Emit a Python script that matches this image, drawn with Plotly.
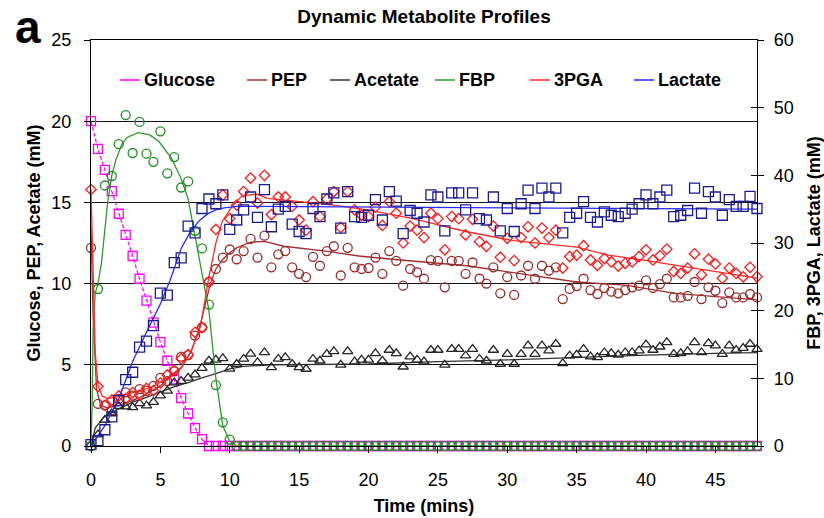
import plotly.graph_objects as go

# ---------------- sampling times (min) ----------------
t = [0.0, 0.5, 1.0, 1.5, 2.0, 2.5, 3.0, 3.5, 4.0, 4.5, 5.0, 5.5, 6.0, 6.5, 7.0, 7.5,
     8.0, 8.5, 9.0, 9.5, 10.0, 10.5, 11.0, 11.5, 12.0, 12.5, 13.0, 13.5, 14.0, 14.5,
     15.0, 15.5, 16.0, 16.5, 17.0, 17.5, 18.0, 18.5, 19.0, 19.5, 20.0, 20.5, 21.0, 21.5,
     22.0, 22.5, 23.0, 23.5, 24.0, 24.5, 25.0, 25.5, 26.0, 26.5, 27.0, 27.5, 28.0, 28.5,
     29.0, 29.5, 30.0, 30.5, 31.0, 31.5, 32.0, 32.5, 33.0, 33.5, 34.0, 34.5, 35.0, 35.5,
     36.0, 36.5, 37.0, 37.5, 38.0, 38.5, 39.0, 39.5, 40.0, 40.5, 41.0, 41.5, 42.0, 42.5,
     43.0, 43.5, 44.0, 44.5, 45.0, 45.5, 46.0, 46.5, 47.0, 47.5, 48.0]

# ---------------- measured concentrations ----------------
# left axis (mM)
glucose = [20.0, 18.3, 17.0, 15.7, 14.3, 13.0, 11.7, 10.3, 8.95, 7.6, 6.4, 5.25, 4.1, 2.95,
           2.0, 1.1, 0.42, 0, 0, 0, 0, 0, 0, 0, 0, 0, 0, 0, 0, 0, 0, 0, 0, 0, 0, 0, 0, 0,
           0, 0, 0, 0, 0, 0, 0, 0, 0, 0, 0, 0, 0, 0, 0, 0, 0, 0, 0, 0, 0, 0, 0, 0, 0, 0,
           0, 0, 0, 0, 0, 0, 0, 0, 0, 0, 0, 0, 0, 0, 0, 0, 0, 0, 0, 0, 0, 0, 0, 0, 0, 0,
           0, 0, 0, 0, 0, 0, 0]

pep = [12.2, 2.6, 2.5, 2.2, 2.9, 3.3, 3.1, 3.5, 3.4, 3.7, 4.2, 4.0, 4.6, 5.5, 5.6, 6.8,
       7.3, 10.1, 10.9, 11.6, 12.1, 11.5, 12.0, 12.75, 11.6, 12.95, 11.0, 11.8, 12.0, 11.0,
       10.6, 10.4, 11.65, 11.1, 12.0, 12.3, 10.5, 12.2, 11.0, 10.9, 10.96, 11.6, 10.6, 12.0,
       11.4, 9.87, 10.9, 10.7, 10.3, 11.45, 11.4, 9.77, 11.4, 11.4, 10.6, 11.3, 10.3, 10.0,
       11.0, 9.4, 10.4, 9.3, 10.5, 11.1, 10.3, 11.1, 10.8, 11.0, 9.05, 9.67, 9.85, 10.3,
       9.6, 9.36, 9.73, 9.5, 9.4, 9.6, 9.77, 9.87, 10.2, 9.73, 9.97, 10.3, 9.15, 9.15,
       9.25, 10.1, 9.05, 9.77, 9.56, 8.8, 9.46, 9.15, 9.15, 9.36, 9.15]

acetate = [0.1, 0.7, 1.6, 2.0, 2.45, 2.42, 2.38, 2.62, 2.48, 2.7, 3.1, 3.4, 3.9, 4.0, 4.2,
           4.4, 4.8, 5.25, 5.3, 5.4, 4.75, 5.05, 5.36, 5.67, 5.15, 5.76, 4.84, 5.36, 5.46,
           5.05, 4.84, 4.74, 5.36, 5.25, 5.66, 5.83, 5.0, 5.83, 5.2, 5.3, 5.3, 5.7, 5.25,
           5.91, 5.7, 4.88, 5.5, 5.3, 5.2, 5.91, 5.91, 5.0, 5.97, 5.97, 5.56, 5.97, 5.36,
           5.25, 5.91, 5.05, 5.66, 5.05, 5.66, 6.18, 5.66, 6.18, 5.87, 6.28, 5.09, 5.56,
           5.62, 5.97, 5.5, 5.46, 5.76, 5.7, 5.62, 5.76, 5.76, 5.87, 6.24, 5.91, 6.11, 6.38,
           5.66, 5.7, 5.83, 6.38, 5.76, 6.32, 6.18, 5.66, 6.18, 5.91, 6.03, 6.28, 5.97]

# right axis (mM)
fbp = [0, 23.2, 38.5, 39.9, 44.6, 48.9, 43.3, 47.9, 43.2, 42.0, 46.5, 40.3, 42.7, 38.2,
       39.1, 31.8, 29.2, 20.9, 9.0, 3.5, 0.95, 0, 0, 0, 0, 0, 0, 0, 0, 0, 0, 0, 0, 0, 0,
       0, 0, 0, 0, 0, 0, 0, 0, 0, 0, 0, 0, 0, 0, 0, 0, 0, 0, 0, 0, 0, 0, 0, 0, 0, 0, 0,
       0, 0, 0, 0, 0, 0, 0, 0, 0, 0, 0, 0, 0, 0, 0, 0, 0, 0, 0, 0, 0, 0, 0, 0, 0, 0, 0,
       0, 0, 0, 0, 0, 0, 0, 0]

pga3 = [37.9, 8.8, 6.0, 6.8, 7.4, 7.0, 7.9, 7.5, 8.5, 8.2, 9.3, 10.5, 11.2, 12.9, 13.5,
        16.8, 17.5, 24.3, 32.0, 37.1, 33.6, 35.6, 37.6, 39.6, 35.9, 40.0, 34.2, 36.8, 36.8,
        35.4, 33.4, 31.9, 36.1, 33.9, 36.5, 37.6, 32.3, 37.6, 34.9, 34.1, 33.9, 35.3, 32.6,
        36.1, 34.4, 30.0, 32.5, 31.9, 30.8, 34.4, 33.6, 29.0, 33.9, 33.6, 31.2, 33.5, 30.2,
        29.5, 32.5, 27.9, 30.7, 27.4, 30.8, 32.4, 30.0, 32.2, 30.8, 31.9, 26.3, 28.0, 28.2,
        29.6, 27.5, 26.7, 27.7, 27.2, 26.6, 27.0, 27.2, 28.0, 29.0, 27.5, 28.1, 29.1, 25.8,
        25.5, 26.3, 28.4, 25.3, 27.6, 26.9, 24.8, 26.3, 25.5, 25.0, 26.4, 25.0]

lactate = [0.2, 0.8, 2.4, 4.3, 6.7, 9.8, 10.9, 14.6, 15.5, 17.8, 22.6, 22.3, 27.1, 27.8,
           32.5, 31.5, 35.1, 36.5, 35.8, 37.1, 32.0, 33.4, 34.9, 36.8, 33.8, 37.9, 32.4,
           35.0, 35.4, 32.8, 31.7, 31.4, 35.1, 33.9, 36.5, 37.4, 32.2, 37.6, 33.9, 33.8,
           34.1, 36.4, 33.4, 37.6, 36.2, 31.4, 34.8, 34.4, 33.1, 37.1, 36.8, 31.8, 37.4,
           37.4, 34.9, 37.4, 33.6, 33.4, 36.8, 31.8, 35.1, 31.7, 35.8, 37.8, 35.1, 38.1,
           36.8, 38.1, 31.5, 33.8, 34.4, 36.1, 33.8, 33.1, 34.6, 34.1, 33.9, 34.4, 35.0,
           35.8, 37.1, 35.8, 36.8, 37.8, 33.9, 34.1, 34.8, 38.1, 34.4, 37.6, 36.8, 34.1,
           36.4, 35.4, 35.4, 36.9, 35.1]

# ---------------- model fits (knots) ----------------
pep_fit_t = [0, 0.15, 0.4, 0.7, 1.2, 2, 3, 4, 5, 5.6, 6.5, 7.2, 7.8, 8.2, 8.6, 9.0, 9.5,
             10.0, 10.5, 11.5, 12.5, 13.9, 16.9, 19.3, 21.7, 27.1, 31.9, 35, 38.5, 42.1, 48]
pep_fit = [13.5, 8, 3.5, 2.5, 2.35, 2.5, 2.8, 3.2, 3.7, 4.2, 4.8, 5.8, 7.2, 8.6, 10.0, 10.9,
           11.5, 11.9, 12.2, 12.55, 12.6, 12.3, 12.0, 11.7, 11.5, 11.1, 10.5, 10.1, 9.9, 9.4, 9.0]

ace_fit_t = [0, 0.3, 1, 2, 3, 4, 5, 6, 7, 8, 9, 10, 11, 13, 20, 25, 30, 35, 40, 45, 48]
ace_fit = [0, 1.1, 1.85, 2.3, 2.7, 3.0, 3.35, 3.65, 3.9, 4.2, 4.45, 4.75, 4.9, 5.0, 5.05,
           5.2, 5.3, 5.45, 5.6, 5.7, 5.75]

fbp_fit_t = [0, 0.08, 0.15, 0.3, 0.5, 0.75, 1.0, 1.2, 1.5, 1.8, 2.2, 2.6, 3.4, 4.2, 4.9,
             5.8, 6.5, 7.0, 7.5, 8.0, 8.5, 9.0, 9.5, 10.0, 10.5, 48]
fbp_fit = [0, 6, 17, 22.5, 24, 27, 32, 36, 40, 42.3, 44.5, 45.6, 46.3, 46, 45, 42.5, 39.5,
           36.5, 31, 25.5, 20, 10, 3, 0.7, 0, 0]

pga_fit_t = [0, 0.1, 0.3, 0.5, 0.8, 1.2, 2.0, 3.2, 4.4, 5.6, 6.55, 7.26, 7.88, 8.1, 8.3,
             8.5, 8.72, 9.0, 9.44, 10.16, 10.9, 12, 12.7, 15.1, 17.5, 19.9, 23.2, 27, 30.3,
             35, 37.3, 39.7, 42.1, 44.5, 48]
pga_fit = [38, 30, 14, 9, 7.4, 7.0, 7.3, 8.0, 8.7, 10.2, 11.7, 14.2, 17.6, 20.2, 22.8, 25.0,
           27.2, 30.0, 33.1, 35.4, 37.0, 37.2, 36.6, 36.1, 35.6, 34.9, 33.6, 31.7, 30.4, 29.4,
           28.2, 27.5, 26.7, 26.0, 24.8]

lac_fit_t = [0, 1, 2, 3, 4, 5, 5.7, 6.5, 7.2, 7.8, 8.4, 9.0, 9.6, 10.5, 12, 20, 30, 40, 48]
lac_fit = [0, 3.0, 7.0, 12.5, 16.8, 21.0, 24.5, 29.2, 31.8, 33.3, 34.3, 34.9, 35.2, 35.4,
           35.4, 35.3, 35.2, 35.1, 35.0]

legend_names = ["Glucose", "PEP", "Acetate", "FBP", "3PGA", "Lactate"]

# ---------------- styling ----------------
FONT = "Arial, Liberation Sans, sans-serif"
C_GLU, C_PEP, C_ACE = "#FF00FF", "#962D2D", "#262626"
C_FBP, C_PGA, C_LAC = "#1E8C1E", "#FF1A1A", "#1C1C8C"
L_PEP, L_ACE, L_FBP, L_PGA, L_LAC = "#A03030", "#333333", "#2E9A2E", "#FF2A2A", "#2A2AFF"
legend_colors = [C_GLU, L_PEP, L_ACE, L_FBP, L_PGA, L_LAC]

W, H = 824, 518
M_L, M_R, M_T, M_B = 91, 67, 40, 72
PLOT_W, PLOT_H = W - M_L - M_R, H - M_T - M_B


def px_to_paper(x_px, y_px):
    """Convert page pixel position to plot-area paper coordinates."""
    return (x_px - M_L) / PLOT_W, (H - M_B - y_px) / PLOT_H


fig = go.Figure()


def fit_trace(x, y, color, axis):
    return go.Scatter(x=x, y=y, mode="lines", yaxis=axis, showlegend=False,
                      line=dict(color=color, width=1.3), hoverinfo="skip")


def data_trace(y, symbol, size, color, axis):
    return go.Scatter(x=t, y=y, mode="markers", yaxis=axis, showlegend=False,
                      cliponaxis=False,
                      marker=dict(symbol=symbol, size=size, color=color,
                                  line=dict(color=color, width=1.3)))


# glucose: points joined by a broken line
fig.add_trace(go.Scatter(x=t, y=glucose, mode="lines+markers", yaxis="y", showlegend=False,
                         cliponaxis=False,
                         line=dict(color=C_GLU, width=1.2, dash="4px,2px"),
                         marker=dict(symbol="square-open", size=9, color=C_GLU,
                                     line=dict(color=C_GLU, width=1.3))))
fig.add_trace(fit_trace(pep_fit_t, pep_fit, L_PEP, "y"))
fig.add_trace(data_trace(pep, "circle-open", 9, C_PEP, "y"))
fig.add_trace(fit_trace(ace_fit_t, ace_fit, L_ACE, "y"))
fig.add_trace(data_trace(acetate, "triangle-up-open", 9, C_ACE, "y"))

fig.add_trace(fit_trace(fbp_fit_t, fbp_fit, L_FBP, "y2"))
fig.add_trace(data_trace(fbp, "circle-open", 9, C_FBP, "y2"))
fig.add_trace(fit_trace(pga_fit_t, pga_fit, L_PGA, "y2"))
fig.add_trace(data_trace(pga3, "diamond-open", 8, C_PGA, "y2"))
fig.add_trace(fit_trace(lac_fit_t, lac_fit, L_LAC, "y2"))
fig.add_trace(data_trace(lactate, "square-open", 10, C_LAC, "y2"))

# trace that makes the tick-only companion axis render
fig.add_trace(go.Scatter(x=[None], y=[None], yaxis="y3", showlegend=False))

# legend inside the plot: short line sample followed by the series name
legend_x_px = [120, 247, 330, 435, 530, 634]
legend_y_px = 80
shapes, annotations = [], []
for name, color, x0 in zip(legend_names, legend_colors, legend_x_px):
    xa, ya = px_to_paper(x0, legend_y_px)
    xb, _ = px_to_paper(x0 + 20, legend_y_px)
    xt, _ = px_to_paper(x0 + 22, legend_y_px)
    shapes.append(dict(type="line", xref="paper", yref="paper", x0=xa, x1=xb, y0=ya, y1=ya,
                       line=dict(color=color, width=1.5)))
    annotations.append(dict(text=f"<b>{name}</b>", x=xt, y=ya, xref="paper", yref="paper",
                            showarrow=False, xanchor="left", yanchor="middle",
                            font=dict(family=FONT, size=18, color="black")))

ax_, ay_ = px_to_paper(28, 27)
annotations.append(dict(text="<b>a</b>", x=ax_, y=ay_, xref="paper", yref="paper",
                        showarrow=False, xanchor="center", yanchor="middle",
                        font=dict(family=FONT, size=46, color="black")))

axis_common = dict(showline=True, linecolor="black", linewidth=1.3, ticks="outside",
                   tickcolor="black", tickwidth=1.2, ticklen=6, zeroline=False,
                   automargin=False,
                   tickfont=dict(family=FONT, size=18, color="black"))
title_font = dict(family=FONT, size=18, color="black")

fig.update_layout(
    width=W, height=H,
    margin=dict(l=M_L, r=M_R, t=M_T, b=M_B, autoexpand=False),
    paper_bgcolor="white", plot_bgcolor="white",
    font=dict(family=FONT, color="black"),
    showlegend=False,
    title=dict(text="<b>Dynamic Metabolite Profiles</b>", x=0.5, xref="paper",
               y=1 - 16 / H, yref="container", yanchor="middle",
               font=dict(family=FONT, size=19, color="black"),
               automargin=False),
    xaxis=dict(range=[0, 48], tick0=0, dtick=5, mirror=True, showgrid=False,
               ticklabelstandoff=11,
               title=dict(text="<b>Time (mins)</b>", standoff=10, font=title_font),
               **axis_common),
    yaxis=dict(range=[0, 25], tick0=0, dtick=5, showgrid=True, gridcolor="#111111",
               gridwidth=1.2, ticklabelstandoff=9,
               title=dict(text="<b>Glucose, PEP, Acetate (mM)</b>", standoff=5,
                          font=title_font),
               **axis_common),
    yaxis2=dict(range=[0, 60], tick0=0, dtick=10, overlaying="y", side="right",
                showgrid=False, ticklabelstandoff=6,
                title=dict(text="<b>FBP, 3PGA, Lactate (mM)</b>", standoff=14,
                           font=title_font),
                **axis_common),
    yaxis3=dict(range=[0, 60], tick0=0, dtick=10, overlaying="y", side="right",
                showgrid=False, showline=False, zeroline=False, ticks="inside",
                ticklen=6, tickwidth=1.2, tickcolor="black", showticklabels=False,
                automargin=False),
    shapes=shapes,
    annotations=annotations,
)

fig.write_html("out.html")
